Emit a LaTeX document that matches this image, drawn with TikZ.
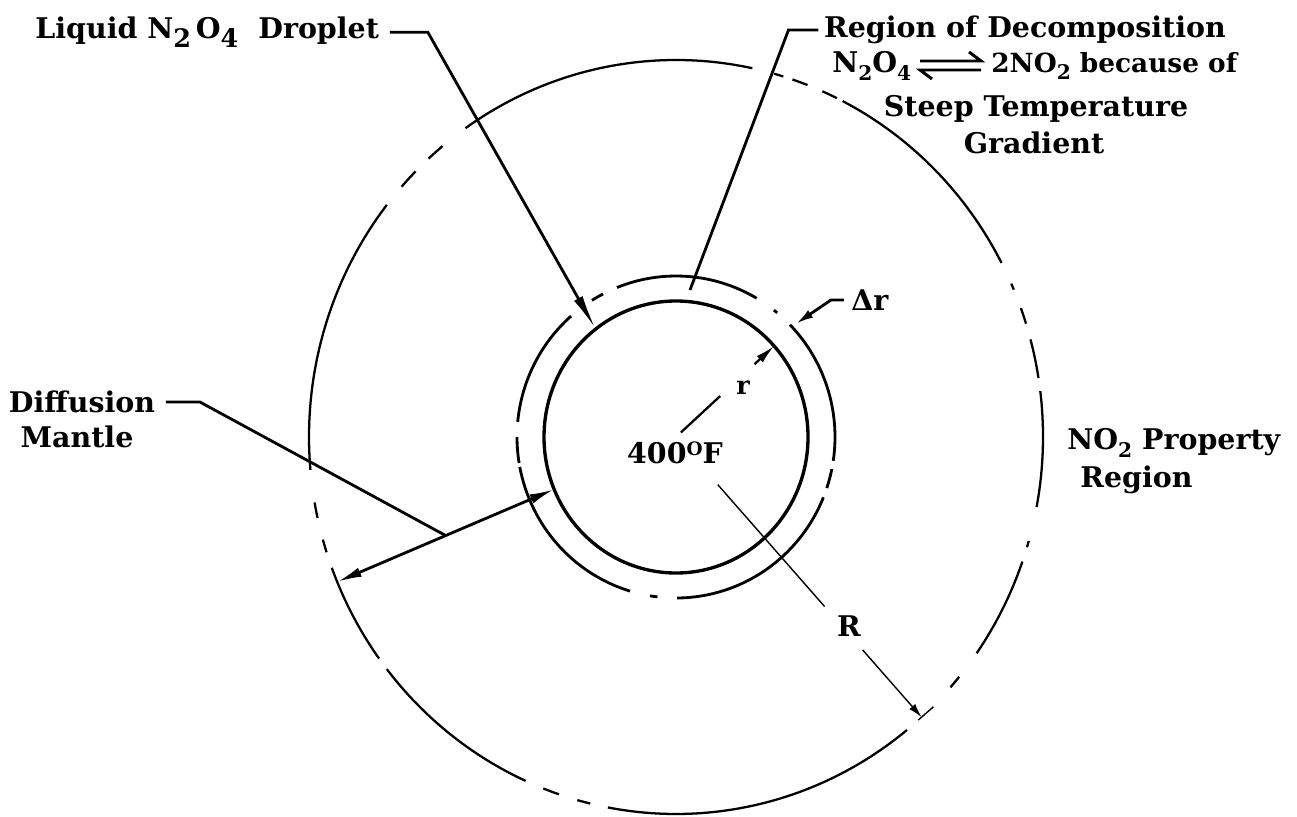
\documentclass[tikz,border=0pt]{standalone}
\usepackage{fontspec}
\setmainfont{DejaVu Serif}
\usetikzlibrary{arrows.meta,calc}
\newcommand\lowsub[1]{\raisebox{-0.5ex}{\fontsize{11.5}{11.5}\selectfont #1}}
\newcommand\bigsub[1]{\raisebox{-0.55ex}{\fontsize{14.5}{14.5}\selectfont #1}}
\begin{document}
\begin{tikzpicture}[x=0.02cm,y=0.02cm,
  lbl/.style={font=\bfseries\fontsize{16.2}{19}\selectfont, inner sep=0pt},
  lead/.style={line width=1.6pt},
  thinlead/.style={line width=0.8pt},
  innerc/.style={line width=1.9pt},
  ringc/.style={line width=1.6pt},
  outerc/.style={line width=1.3pt},
  eqline/.style={line width=1.7pt, line join=miter}
]
\useasboundingbox (0,0) rectangle (1297,816);
\fill[white] (0,0) rectangle (1297,816);
\coordinate (C) at (676,379);
% droplet surface
\draw[innerc] (C) ellipse [x radius=132, y radius=136];
% region of decomposition boundary (dash-dot)
\foreach \a/\b in {-8.5/44.2, 50.5/52, 59.5/111.8, 117.3/121.9, 131.3/174.6, 180/189.3, 190.7/253.2, 260.6/263.3, 270.4/338, 341.5/348.5}
  \draw[ringc] ($(C)+({159*cos(\a)},{161*sin(\a)})$) arc[start angle=\a, end angle=\b, x radius=159, y radius=161];
% outer boundary (phantom line)
\foreach \a/\b in {-10.7/7, 9/15, 17.5/20, 23/24, 27.5/63, 64/66.5, 69/71.5, 73/74.5, 78/125, 129.5/132.4, 135.2/138.4, 142/185, 190/192.4, 195.8/197.8, 200.3/216, 218/245.8, 248.8/251.4, 254.4/256.5, 259.3/309, 318.4/320.5, 325/340.7, 343/344}
  \draw[outerc] ($(C)+({367*cos(\a)},{377*sin(\a)})$) arc[start angle=\a, end angle=\b, x radius=367, y radius=377];

\coordinate (dropTip) at ($(C)+({132*cos(127.5)},{136*sin(127.5)})$);
\coordinate (rTip) at ($(C)+({132*cos(42)},{136*sin(42)})$);
\coordinate (RTip) at ($(C)+({367*cos(-48)},{377*sin(-48)})$);
\coordinate (dA) at ($(C)+({132*cos(202.6)},{136*sin(202.6)})$);
\coordinate (dB) at ($(C)+({367*cos(202.6)},{377*sin(202.6)})$);
\coordinate (drTip) at ($(C)+({164*cos(43)},{166*sin(43)})$);
\coordinate (regEnd) at (690,526);
\coordinate (dM) at ($(dA)!0.5!(dB)$);

% labels
\node[lbl, anchor=base west] (drop) at (35,777) {Liquid N\bigsub{2}\,O\bigsub{4}\hspace{0.7em}Droplet};
\node[lbl] (reg1) at (1025,786) {Region of Decomposition};
\node[lbl, anchor=base west] (reg2a) at (832,743) {N\lowsub{2}O\lowsub{4}};
\node[lbl, anchor=base west, font=\bfseries\fontsize{15}{18}\selectfont] (reg2b) at (991,743) {2NO\lowsub{2} because of};
\node[lbl] (reg3) at (1036,707) {Steep Temperature};
\node[lbl] (reg4) at (1034,673) {Gradient};
\node[lbl, anchor=west] (dr) at (851,516) {Δr};
\node[lbl] (temp) at (675,363) {400\raisebox{0.55ex}{\fontsize{10.5}{10.5}\selectfont O}F};
\node[font=\bfseries\fontsize{14.5}{14.5}\selectfont, inner sep=0pt] (rl) at (743,428) {r};
\node[lbl] (Rl) at (849,190) {R};
\node[lbl] (dif1) at (82,414) {Diffusion};
\node[lbl] (dif2) at (77,379) {Mantle};
\node[lbl, anchor=west] (no2a) at (1067,373) {NO\lowsub{2} Property};
\node[lbl, anchor=west] (no2b) at (1080,336) {Region};

% equilibrium harpoons between N2O4 and 2NO2
\draw[eqline] (920,755) -- (981,755) -- (969,764);
\draw[eqline] (981,746) -- (920,746) -- (932,737);

% leaders
\draw[lead,-{Latex[length=20pt,width=5.5pt]}] ([xshift=6pt]drop.east) -- ++(38,0) -- (dropTip);
\draw[lead] ([xshift=-3pt]reg1.west) -- ++(-30,0) -- (regEnd);
\draw[lead,-{Latex[length=10pt,width=5pt]}] ([xshift=-4pt]dr.west) -- ++(-13,0) -- (drTip);
\draw[line width=1.3pt] ($(C)!0.05!(rTip)$) -- ($(C)!0.45!(rTip)$);
\draw[line width=1.3pt,-{Latex[length=11pt,width=5pt]}] ($(C)!0.8!(rTip)$) -- (rTip);
\draw[thinlead] ($(C)!0.17!(RTip)$) -- ($(C)!0.605!(RTip)$);
\draw[thinlead,-{Latex[length=8pt,width=4.5pt]}] ($(C)!0.76!(RTip)$) -- (RTip);
\draw[thinlead] ($(RTip)!2.5pt!90:(C)$) -- ($(RTip)!9pt!-90:(C)$);
\draw[lead,{Latex[length=14pt,width=5.5pt]}-{Latex[length=14pt,width=5.5pt]}] (dA) -- (dB);
\draw[lead] ([xshift=6pt]dif1.east) -- ++(34,0) -- (dM);
\end{tikzpicture}
\end{document}
